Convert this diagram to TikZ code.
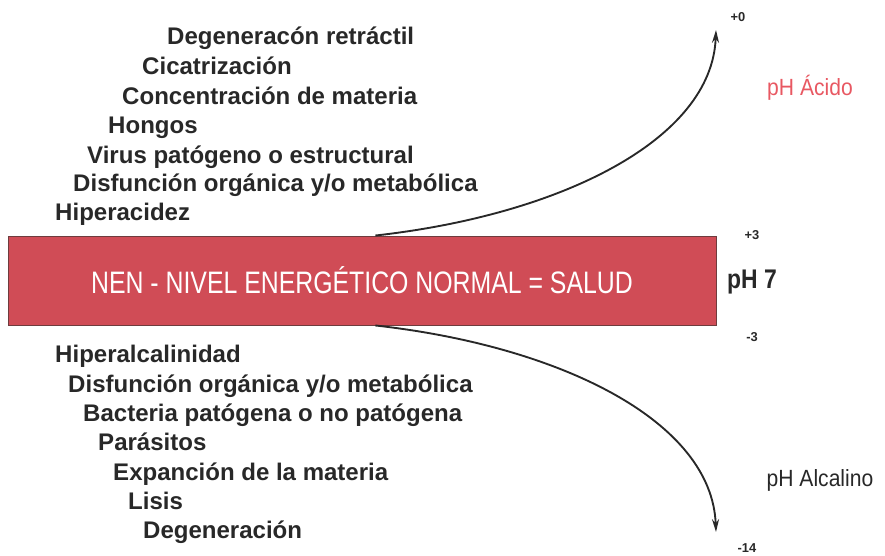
\documentclass[tikz,border=0pt]{standalone}
\usepackage{fontspec}
\setmainfont{Liberation Sans}
\usetikzlibrary{arrows.meta}
\usetikzlibrary{positioning}
\definecolor{nen-red}{RGB}{208, 76, 86}
\definecolor{nen-border}{RGB}{110, 60, 62}
\definecolor{acid-red}{RGB}{232, 88, 98}
\definecolor{text-dark}{RGB}{40, 40, 40}
\newfontfamily\barfont{Liberation Sans}[FakeStretch=0.8]
\newfontfamily\phfont{Liberation Sans}[FakeStretch=0.9]
\newfontfamily\phsevenfont{Liberation Sans}[FakeStretch=0.85]

\begin{document}
\begin{tikzpicture}[x=0.03cm, y=-0.03cm,
    item/.style={anchor=base west, inner sep=0pt, text=text-dark, font=\fontsize{20.5}{22}\selectfont\bfseries},
    scalelabel/.style={inner sep=0pt, text=text-dark, font=\fontsize{11}{12}\selectfont\bfseries},
    arr/.style={draw=text-dark, line width=1.6pt, -{Stealth[length=11pt, width=6pt]}}]
\useasboundingbox (0,0) rectangle (885,556);

\node[draw=nen-border, fill=nen-red, line width=0.8pt, inner sep=0pt, minimum width=21.24cm, minimum height=2.67cm,
      text=white, font=\barfont\fontsize{26.5}{28}\selectfont] (bar) at (362,280.5) {NEN - NIVEL ENERGÉTICO NORMAL = SALUD};

% acid side
\node[item] (acid1) at (167,44.5) {Degeneracón retráctil};
\node[item] (acid2) at (142,74.5) {Cicatrización};
\node[item] (acid3) at (122,104.5) {Concentración de materia};
\node[item] (acid4) at (108,133.5) {Hongos};
\node[item] (acid5) at (87,163.5) {Virus patógeno o estructural};
\node[item] (acid6) at (73,191.5) {Disfunción orgánica y/o metabólica};
\node[item] (acid7) at (55,220.5) {Hiperacidez};

% alkaline side
\node[item] (alk1) at (55,362.5) {Hiperalcalinidad};
\node[item] (alk2) at (68,392.5) {Disfunción orgánica y/o metabólica};
\node[item] (alk3) at (83,421.5) {Bacteria patógena o no patógena};
\node[item] (alk4) at (98,450.5) {Parásitos};
\node[item] (alk5) at (113,480.5) {Expanción de la materia};
\node[item] (alk6) at (128,509.5) {Lisis};
\node[item] (alk7) at (143,538.5) {Degeneración};

\coordinate (acid-tip) at (716,30);
\coordinate (alk-tip) at (716,532);
\draw[arr] ([xshift=0.4cm]bar.north) .. controls (560,215) and (712,140) .. (acid-tip);
\draw[arr] ([xshift=0.4cm]bar.south) .. controls (560,346) and (712,421) .. (alk-tip);

\node[scalelabel] (plus0) at (738,17) {+0};
\node[scalelabel] (plus3) at (752,235) {+3};
\node[scalelabel] (minus3) at (752,337) {-3};
\node[scalelabel] (minus14) at (747,548) {-14};

\node[text=text-dark, font=\phsevenfont\bfseries\fontsize{23}{25}\selectfont] (ph7) at (752,282) {pH 7};
\node[text=acid-red, font=\phfont\fontsize{20}{22}\selectfont] (acid) at (810,88) {pH Ácido};
\node[text=text-dark, font=\phfont\fontsize{20}{22}\selectfont] (alk) at (820,480) {pH Alcalino};
\end{tikzpicture}
\end{document}
